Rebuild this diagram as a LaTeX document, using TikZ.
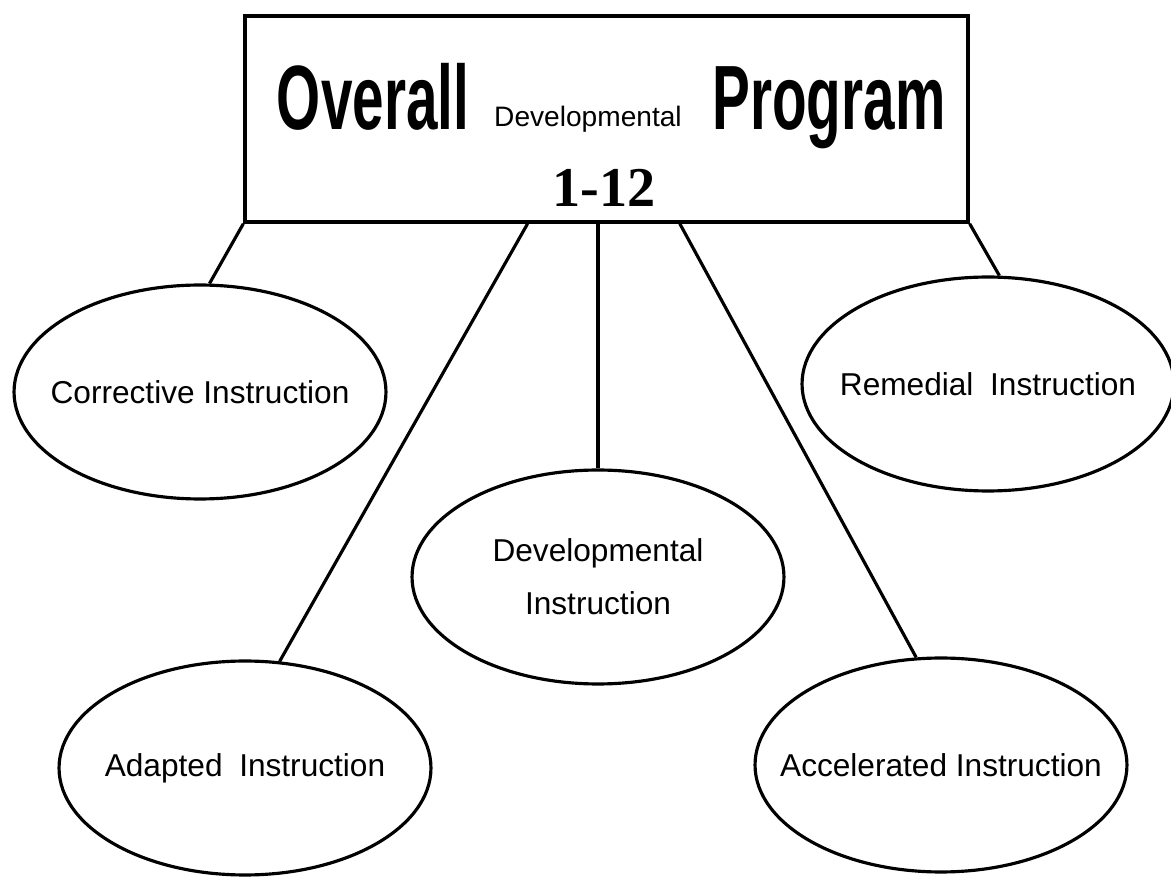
\documentclass[tikz,border=0pt]{standalone}
\usepackage{fontspec}
\setmainfont{Liberation Sans}
\newfontfamily\gradefont{Liberation Serif}
\usepackage{graphicx}
\usepackage{tikz}
\usetikzlibrary{shapes.geometric,positioning}
\tikzstyle{instr}=[ellipse,draw,line width=1.8pt,minimum width=7.44cm,minimum height=4.28cm,inner xsep=-1.5cm,inner ysep=0pt,font=\fontsize{18}{30}\selectfont,align=center]
\tikzstyle{link}=[line width=1.8pt]
\tikzstyle{bigword}=[inner sep=0pt,anchor=base,font=\fontsize{52}{60}\selectfont\bfseries]

\begin{document}
\begin{tikzpicture}[x=0.02cm,y=-0.02cm]

	\useasboundingbox (0,0) rectangle (1171,878);

	\node [draw, line width=2pt, minimum width=14.46cm, minimum height=4.12cm] (prog) at (606.5,119) {};

	\node [bigword] (overall) at (373,130) {\scalebox{0.62}[1]{Overall}};
	\node [inner sep=0pt, anchor=base, font=\fontsize{16}{20}\selectfont] (devword) at (588,127) {Developmental};
	\node [bigword] (program) at (829,130) {\scalebox{0.62}[1]{Program}};
	\node [inner sep=0pt, anchor=base, font=\gradefont\fontsize{32}{36}\selectfont\bfseries] (grade) at (604,207) {1-12};

	\node [instr] (corr) at (200,392) {Corrective Instruction};
	\node [instr] (rem) at (988,384) {Remedial\hspace{0.25em} Instruction};
	\node [instr] (dev) at (598,577) {Developmental\\Instruction};
	\node [instr] (adap) at (245,768) {Adapted\hspace{0.25em} Instruction};
	\node [instr] (acc) at (941,765) {Accelerated Instruction};

	\draw[link] (prog.south west) -- (corr.85);
	\draw[link] (prog.-127.7) -- (adap.72);
	\draw[link] (dev.north |- prog.south) -- (dev.north);
	\draw[link] (prog.-55.2) -- (acc.103);
	\draw[link] (prog.south east) -- (rem.84);

\end{tikzpicture}
\end{document}
